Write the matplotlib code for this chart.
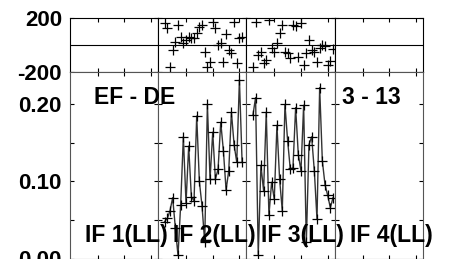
import numpy as np
import matplotlib.pyplot as plt

plt.rcParams['font.family'] = ['Liberation Sans', 'DejaVu Sans']
plt.rcParams['font.weight'] = 'bold'

nan = np.nan

# channels per IF and labels
channels = np.arange(1, 33)
if_labels = ["IF 1(LL)", "IF 2(LL)", "IF 3(LL)", "IF 4(LL)"]
source_label = "EF - DE"
time_label = "3 - 13"

# amplitude per channel (IF 1 and IF 4 have no data)
amp_if2 = [nan, 0.048, 0.052, 0.062, 0.079, 0.040, 0.004, 0.070, 0.158, 0.072,
           0.146, 0.080, 0.075, 0.185, 0.100, 0.068, 0.021, 0.200, 0.103, 0.164,
           0.103, 0.116, 0.177, 0.140, 0.089, 0.114, 0.190, 0.148, 0.125, 0.232,
           0.125, nan]
amp_if3 = [nan, 0.186, 0.209, 0.005, 0.121, 0.088, 0.190, 0.056, 0.099, 0.077,
           0.173, 0.103, 0.062, 0.200, 0.153, 0.116, 0.118, 0.196, 0.135, 0.114,
           0.199, 0.021, 0.148, 0.158, 0.114, 0.051, 0.222, 0.127, 0.096, 0.082,
           0.066, 0.079]

# phase per channel (degrees)
phase_if2 = [nan, 161, 124, -161, -37, 24, 148, 62, 12, 37, 62, 55, 50, 87, 136,
             148, -50, -161, -124, 173, 124, 0, 12, -124, 80, -37, -62, 173, -136,
             50, 60, nan]
phase_if3 = [nan, -161, 173, -74, -50, -136, -111, 185, -25, -50, 12, 87, 148,
             -50, -62, -99, 150, 140, -86, 161, -148, -62, 37, -37, -50, -124,
             -20, 0, -10, -148, -120, -30]

empty = [nan] * 32
amps = [empty, amp_if2, amp_if3, empty]
phases = [empty, phase_if2, phase_if3, empty]

W, H = 452, 259
fig = plt.figure(figsize=(W / 100, H / 100), dpi=100)


def box(x0, y0, x1, y1):
    return [x0 / W, 1 - y1 / H, (x1 - x0) / W, (y1 - y0) / H]


edges = [70, 158.25, 246.5, 334.75, 423]

for i in range(4):
    ax_p = fig.add_axes(box(edges[i], 18, edges[i + 1], 72))
    ax_a = fig.add_axes(box(edges[i], 72, edges[i + 1], 258.5))

    # phase
    ax_p.plot(channels, phases[i], linestyle='none', marker='+', ms=7,
              mew=0.9, color='black')
    ax_p.axhline(0, color='black', lw=0.8)
    ax_p.set_ylim(-200, 200)
    ax_p.set_yticks([-200, 200])
    ax_p.set_yticklabels(["-200", "200"])

    # amplitude
    ax_a.plot(channels, amps[i], color='#333333', lw=1.0, marker='+', ms=6.5,
              mew=0.9, mec='black')
    ax_a.set_ylim(0, 0.2422)
    ax_a.set_yticks([0, 0.1, 0.2])
    ax_a.set_yticklabels(["0.00", "0.10", "0.20"])
    ax_a.set_yticks([0.05, 0.15], minor=True)

    for ax in (ax_p, ax_a):
        ax.set_xlim(-0.4, 32.65)
        ax.set_xticks([10, 20, 30])
        ax.tick_params(which='both', direction='in', top=True, right=True,
                       length=3, width=0.8, labelbottom=False,
                       labelleft=(i == 0), labelsize=16, pad=5.8)
        for s in ax.spines.values():
            s.set_linewidth(0.8)
    for s in ax_a.spines.values():
        s.set_color('#555555')

    fig.text((edges[i] + 15) / W, 1 - 242 / H, if_labels[i], fontsize=16.5,
             fontweight='bold', ha='left', va='baseline')

fig.text(94 / W, 1 - 104 / H, source_label, fontsize=16.5, fontweight='bold',
         ha='left', va='baseline')
fig.text(342 / W, 1 - 104 / H, time_label, fontsize=16.5, fontweight='bold',
         ha='left', va='baseline')

fig.savefig("out.png", dpi=100)
